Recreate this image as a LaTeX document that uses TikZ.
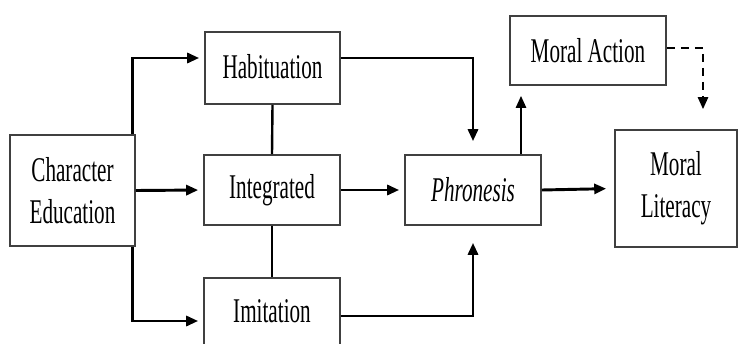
\documentclass[tikz,border=0pt]{standalone}
\usepackage{fontspec}
\setmainfont{Liberation Serif}[FakeStretch=0.61]
\usetikzlibrary{arrows.meta}
\begin{document}
\begin{tikzpicture}[x=0.75pt,y=-0.75pt,
  box/.style={draw=black!75,line width=1.2pt,inner sep=0pt,align=center,
    font=\fontsize{26}{31.5}\selectfont},
  conn/.style={line width=2.2pt,black},
  arr/.style={conn,-{Triangle[length=9pt,width=7.5pt]}},
  dsh/.style={line width=1.8pt,black,dash pattern=on 6pt off 4.5pt,-{Triangle[length=9pt,width=7.5pt]}}]
\useasboundingbox (0,0) rectangle (739,343);
\node[box,minimum width=93.75pt,minimum height=83.25pt] (ce) at (72.5,190.5) {Character\\Education};
\node[box,minimum width=101.25pt,minimum height=54pt] (hab) at (272.5,68) {\raisebox{2pt}{Habituation}};
\node[box,minimum width=102pt,minimum height=52.5pt] (int) at (272,190) {Integrated};
\node[box,minimum width=102pt,minimum height=51pt] (imi) at (272,312) {\raisebox{1.5pt}{Imitation}};
\node[box,minimum width=102pt,minimum height=52.5pt] (phr) at (473,190) {\itshape Phronesis};
\node[box,minimum width=117pt,minimum height=51.75pt] (ma) at (588,50.5) {Moral Action};
\node[box,minimum width=91.5pt,minimum height=87.75pt] (ml) at (676,188.5) {Moral\\Literacy};
% from Character Education
\draw[arr,shorten >=3.75pt] ([xshift=-2.25pt]ce.north east) |- ([yshift=7.5pt]hab.west);
\draw[arr,shorten >=3.75pt] (ce.east) -- (int.west);
\draw[arr,shorten >=3.75pt] ([xshift=-2.25pt]ce.south east) |- ([yshift=-6.75pt]imi.west);
% vertical links
\draw[conn,line width=1.8pt] (hab.south) -- (int.north);
\draw[conn,line width=1.8pt] (int.south) -- (imi.north);
% into Phronesis
\draw[arr,shorten >=9.75pt] ([yshift=7.5pt]hab.east) -| (phr.north);
\draw[arr,shorten >=3.75pt] (int.east) -- (phr.west);
\draw[arr,shorten >=12.75pt] ([yshift=-3pt]imi.east) -| (phr.south);
% out of Phronesis
\draw[arr,line width=1.8pt,shorten >=7.5pt] ([xshift=36pt]phr.north) -- ([xshift=36pt]phr.north |- ma.south);
\draw[arr,shorten >=6pt] (phr.east) -- (ml.west);
\draw[dsh,shorten >=15pt] ([yshift=1.9pt]ma.east) -| ([xshift=20.25pt]ml.north);
\end{tikzpicture}
\end{document}
